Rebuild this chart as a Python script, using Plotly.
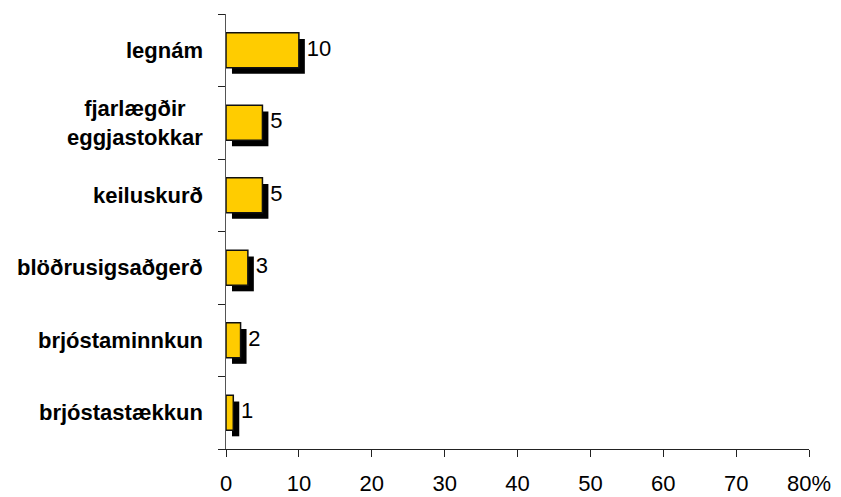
import plotly.graph_objects as go

categories = ["brjóstastækkun", "brjóstaminnkun", "blöðrusigsaðgerð",
              "keiluskurð", "fjarlægðir<br>eggjastokkar", "legnám"]
values = [1, 2, 3, 5, 5, 10]
x_ticks = [0, 10, 20, 30, 40, 50, 60, 70, 80]
x_tick_labels = ["0", "10", "20", "30", "40", "50", "60", "70", "80%"]

pos = list(range(len(categories)))
shadow_dx = 0.82   # in x data units (~6px)
shadow_dy = 0.085  # in category units (~6px)
bar_w = 0.48

FONT = "Liberation Sans, Arial, sans-serif"

fig = go.Figure()
fig.add_trace(go.Bar(
    y=[p - shadow_dy for p in pos], x=values, base=[shadow_dx] * len(values),
    orientation="h", width=bar_w, marker=dict(color="black", line=dict(width=0)),
    hoverinfo="skip", showlegend=False))
fig.add_trace(go.Bar(
    y=pos, x=values, orientation="h", width=bar_w,
    marker=dict(color="#FFCC00", line=dict(color="#111111", width=1.5)),
    showlegend=False))
fig.add_trace(go.Scatter(
    y=pos, x=[v + shadow_dx + 0.25 for v in values], mode="text",
    text=[str(v) for v in values], textposition="middle right",
    textfont=dict(family=FONT, size=22, color="black"),
    hoverinfo="skip", showlegend=False))

for p, c in zip(pos, categories):
    fig.add_annotation(
        x=0, xref="paper", y=p, yref="y", text=c, showarrow=False,
        xanchor="right", yanchor="middle", align="center", xshift=-21,
        font=dict(family=FONT, size=22, color="black", weight="bold"))

fig.update_layout(
    width=841, height=497, barmode="overlay",
    margin=dict(l=226, r=32, t=14, b=48),
    paper_bgcolor="white", plot_bgcolor="white",
    xaxis=dict(range=[0, 80], tickvals=x_ticks, ticktext=x_tick_labels,
               ticks="outside", ticklen=7, tickcolor="#222", showline=True,
               linecolor="#222", linewidth=1, showgrid=False, zeroline=False,
               tickfont=dict(family=FONT, size=22, color="black"),
               ticklabelstandoff=8, automargin=False),
    yaxis=dict(range=[-0.5, 5.5], tickvals=[-0.5 + i for i in range(7)],
               showticklabels=False, ticks="outside", ticklen=7,
               tickcolor="#222", showline=True, linecolor="#555", linewidth=1,
               showgrid=False, zeroline=False, automargin=False),
)

fig.write_html("out.html")
